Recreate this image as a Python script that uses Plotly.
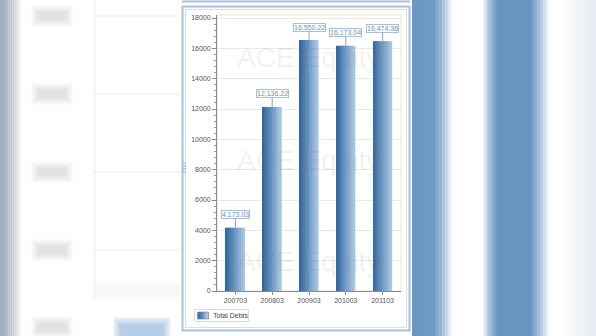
import plotly.graph_objects as go

# ---- data ----
periods = ["200703", "200803", "200903", "201003", "201103"]
total_debts = [4173.03, 12136.22, 16550.22, 16173.04, 16474.36]
value_labels = ["4,173.03", "12,136.22", "16,550.22", "16,173.04", "16,474.36"]
series_name = "Total Debts"

W, H = 596, 336
FONT = "Liberation Sans"


def px(x):
    return min(max(x / W, 0.0), 1.0)


def py(y):
    return min(max(1 - y / H, 0.0), 1.0)


fig = go.Figure()

# bars drawn as adjacent colour strips (grouped) to mimic the horizontal gradient
n_strips = 10
c0 = (52, 104, 160)
c1 = (168, 198, 226)
strip_cols = []
for i in range(n_strips):
    t = i / (n_strips - 1)
    col = "rgb(%d,%d,%d)" % tuple(int(c0[k] + (c1[k] - c0[k]) * t) for k in range(3))
    strip_cols.append(col)
    fig.add_trace(go.Bar(
        x=periods, y=total_debts,
        marker_color=col,
        marker_line_width=0,
        name=series_name,
        showlegend=False,
    ))

shapes = []


def blur_rect(x0, x1, y0, y1, rgb, alpha, fade, n=8):
    for k in range(n):
        e = fade * (n - k) / n
        shapes.append(dict(
            type="rect", xref="paper", yref="paper",
            x0=px(x0 - e), x1=px(x1 + e), y0=py(y1 + e), y1=py(y0 - e),
            fillcolor="rgba(%d,%d,%d,%.3f)" % (rgb + (alpha / n,)),
            line=dict(width=0), layer="below"))


def hband(x0, x1, y0, y1, rgb, a_left, a_right, n=12):
    for k in range(n):
        t = (k + 0.5) / n
        a = a_left + (a_right - a_left) * t
        shapes.append(dict(
            type="rect", xref="paper", yref="paper",
            x0=px(x0 + (x1 - x0) * k / n), x1=px(x0 + (x1 - x0) * (k + 1) / n + 0.6),
            y0=py(y1), y1=py(y0),
            fillcolor="rgba(%d,%d,%d,%.3f)" % (rgb + (a,)),
            line=dict(width=0), layer="below"))


# ---- blurred background (left) ----
hband(0, 22, 0, 336, (130, 145, 170), 0.75, 0.0)
for yy in [16, 94, 172, 250, 327]:
    blur_rect(40, 64, yy - 2, yy + 2, (170, 170, 170), 0.35, 9)
blur_rect(122, 162, 326, 336, (120, 160, 205), 0.7, 9)
blur_rect(98, 178, 287, 295, (215, 215, 220), 0.25, 8)
for yy in [16, 94, 172, 250]:
    shapes.append(dict(type="line", xref="paper", yref="paper",
                       x0=px(92), x1=px(180), y0=py(yy), y1=py(yy),
                       line=dict(color="rgba(245,235,220,0.45)", width=2), layer="below"))
shapes.append(dict(type="line", xref="paper", yref="paper",
                   x0=px(95), x1=px(95), y0=py(0), y1=py(300),
                   line=dict(color="rgba(245,238,225,0.45)", width=2), layer="below"))

# ---- blurred background (right) ----
blue = (104, 150, 194)
hband(412, 434, 0, 336, blue, 1.0, 0.95, n=2)
hband(434, 452, 0, 336, blue, 0.9, 0.0)
hband(482, 497, 0, 336, blue, 0.0, 0.95)
hband(497, 531, 0, 336, blue, 1.0, 1.0, n=1)
hband(530, 549, 0, 336, blue, 0.95, 0.0)
hband(562, 596, 0, 336, (220, 228, 240), 0.0, 0.7)

# ---- panel frame ----
shapes.append(dict(type="rect", xref="paper", yref="paper",
                   x0=px(180), x1=px(412), y0=py(334), y1=py(4),
                   fillcolor="white", line=dict(width=0), layer="below"))
shapes.append(dict(type="rect", xref="paper", yref="paper",
                   x0=px(182.5), x1=px(409.5), y0=py(330.5), y1=py(6.5),
                   line=dict(color="#a8c0e2", width=2), layer="above"))
shapes.append(dict(type="rect", xref="paper", yref="paper",
                   x0=px(185.5), x1=px(406.5), y0=py(327.5), y1=py(9.5),
                   line=dict(color="#d3e0f2", width=1), layer="above"))
shapes.append(dict(type="line", xref="paper", yref="paper",
                   x0=px(182), x1=px(410), y0=py(1.5), y1=py(1.5),
                   line=dict(color="#a8c0e2", width=2), layer="above"))
# splitter handle
for yy in [163, 166, 169, 172]:
    shapes.append(dict(type="line", xref="paper", yref="paper",
                       x0=px(183), x1=px(186), y0=py(yy), y1=py(yy),
                       line=dict(color="#8fa8cc", width=1), layer="above"))

# plot-area beige border (top/right)
shapes.append(dict(type="rect", xref="paper", yref="paper",
                   x0=px(217), x1=px(401), y0=py(291), y1=py(15),
                   line=dict(color="#ece3cf", width=1), layer="below"))

# ---- legend (drawn manually to match the compact box) ----
shapes.append(dict(type="rect", xref="paper", yref="paper",
                   x0=px(194.5), x1=px(248.5), y0=py(321.5), y1=py(309.5),
                   fillcolor="white", line=dict(color="#e3dac4", width=1), layer="above"))
sx0, sx1 = 197.5, 208.5
for i, col in enumerate(strip_cols):
    a = sx0 + (sx1 - sx0) * i / n_strips
    b = sx0 + (sx1 - sx0) * (i + 1) / n_strips
    shapes.append(dict(type="rect", xref="paper", yref="paper",
                       x0=px(a), x1=px(b + 0.3), y0=py(319), y1=py(312),
                       fillcolor=col, line=dict(width=0), layer="above"))
shapes.append(dict(type="rect", xref="paper", yref="paper",
                   x0=px(sx0), x1=px(sx1), y0=py(319), y1=py(312),
                   line=dict(color="#5a82b0", width=0.6), layer="above"))

annotations = []
annotations.append(dict(
    x=px(211), y=py(315.5), xref="paper", yref="paper", text=series_name,
    showarrow=False, xanchor="left", yanchor="middle",
    font=dict(family=FONT, size=7, color="#444444")))

# watermarks (very faint grey so they barely tint the bars)
for yy in [57, 160, 261]:
    annotations.append(dict(
        x=px(308), y=py(yy), xref="paper", yref="paper",
        text="ACE Equity", showarrow=False, xanchor="center", yanchor="middle",
        font=dict(family=FONT, size=28, color="rgba(110,110,110,0.09)")))

# value labels: x given as category index (numeric-looking category names
# would otherwise be read as serial numbers)
for idx, (v, lab) in enumerate(zip(total_debts, value_labels)):
    annotations.append(dict(
        x=idx, y=v, xref="x", yref="y", text=lab,
        showarrow=True, arrowhead=0, arrowwidth=1, arrowcolor="#8ea3c2",
        ax=0, ay=-13,
        font=dict(family=FONT, size=7, color="#6f8db8"),
        bgcolor="white", bordercolor="#a9bedb", borderwidth=1, borderpad=0))

fig.update_layout(
    width=W, height=H,
    margin=dict(l=0, r=0, t=0, b=0, autoexpand=False),
    paper_bgcolor="white",
    plot_bgcolor="rgba(0,0,0,0)",
    barmode="group",
    bargap=0.48,
    bargroupgap=0,
    shapes=shapes,
    annotations=annotations,
    font=dict(family=FONT, size=7, color="#555555"),
    showlegend=False,
    xaxis=dict(
        domain=[px(217), px(401)],
        type="category",
        categoryorder="array", categoryarray=periods,
        range=[-0.5, len(periods) - 0.5],
        automargin=False,
        showline=True, linecolor="#8a8a8a", linewidth=1,
        ticks="outside", ticklen=3, tickcolor="#8a8a8a",
        showgrid=False, zeroline=False,
        tickfont=dict(family=FONT, size=7, color="#555555"),
    ),
    yaxis=dict(
        domain=[py(291), py(15)],
        range=[0, 18200],
        automargin=False,
        tickmode="linear", tick0=0, dtick=2000, tickformat="d",
        showline=True, linecolor="#8a8a8a", linewidth=1,
        ticks="outside", ticklen=4, tickcolor="#8a8a8a",
        minor=dict(tickmode="linear", dtick=400, ticks="outside", ticklen=2,
                   tickcolor="#9a9a9a", showgrid=False),
        showgrid=True, gridcolor="#f1e9da", gridwidth=1,
        zeroline=False,
        tickfont=dict(family=FONT, size=7, color="#555555"),
    ),
)

fig.write_html("out.html")
